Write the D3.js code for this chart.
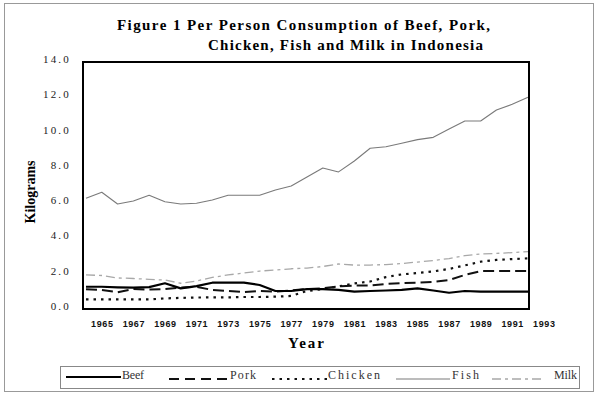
<!DOCTYPE html>
<html>
<head>
<meta charset="utf-8">
<script src="https://cdn.jsdelivr.net/npm/d3@7"></script>
<style>
  body { margin: 0; background: #fff; }
  svg { display: block; }
</style>
</head>
<body>
<div class="chart"></div>
<script>
// per person consumption, kg, 1964 - 1992
const years = [1964, 1965, 1966, 1967, 1968, 1969, 1970, 1971, 1972, 1973,
  1974, 1975, 1976, 1977, 1978, 1979, 1980, 1981, 1982, 1983,
  1984, 1985, 1986, 1987, 1988, 1989, 1990, 1991, 1992];

const beef = [1.26, 1.26, 1.23, 1.21, 1.24, 1.46, 1.17, 1.3, 1.49, 1.49,
  1.49, 1.36, 1.02, 1.02, 1.13, 1.13, 1.08, 0.98, 1.02, 1.05,
  1.08, 1.17, 1.05, 0.92, 1.02, 0.99, 0.98, 0.98, 0.98];
const pork = [1.12, 1.08, 0.95, 1.14, 1.1, 1.13, 1.22, 1.26, 1.08, 1.02,
  0.96, 1.02, 0.99, 1.05, 1.13, 1.17, 1.28, 1.33, 1.33, 1.42,
  1.47, 1.49, 1.53, 1.64, 1.93, 2.15, 2.15, 2.15, 2.15];
const chicken = [0.54, 0.54, 0.54, 0.54, 0.54, 0.6, 0.63, 0.65, 0.66, 0.66,
  0.68, 0.68, 0.7, 0.74, 1.02, 1.13, 1.28, 1.45, 1.56, 1.81,
  1.96, 2.04, 2.13, 2.27, 2.47, 2.68, 2.78, 2.83, 2.87];
const fish = [6.28, 6.62, 5.95, 6.12, 6.45, 6.08, 5.95, 5.99, 6.18, 6.45,
  6.45, 6.45, 6.75, 6.97, 7.48, 7.99, 7.77, 8.39, 9.11, 9.2,
  9.39, 9.6, 9.73, 10.2, 10.66, 10.66, 11.28, 11.6, 12.0];
const milk = [1.93, 1.9, 1.76, 1.73, 1.68, 1.64, 1.46, 1.59, 1.79, 1.93,
  2.04, 2.15, 2.21, 2.28, 2.32, 2.41, 2.55, 2.49, 2.49, 2.52,
  2.58, 2.66, 2.75, 2.86, 3.03, 3.12, 3.15, 3.2, 3.25];

const seriesNames = ["Beef", "Pork", "Chicken", "Fish", "Milk"];
const yTicks = [0, 2, 4, 6, 8, 10, 12, 14];
const xTicks = [1965, 1967, 1969, 1971, 1973, 1975, 1977, 1979, 1981,
  1983, 1985, 1987, 1989, 1991, 1993];

const width = 600,
  height = 395;

const serif = "'Liberation Serif', 'Times New Roman', serif";

// line look for each series
const styles = {
  Beef: { stroke: "#000", width: 2.2, dash: null },
  Pork: { stroke: "#111", width: 2, dash: "11 5" },
  Chicken: { stroke: "#111", width: 2.2, dash: "2.5 5" },
  Fish: { stroke: "#7a7a7a", width: 1.1, dash: null },
  Milk: { stroke: "#a8a8a8", width: 1.3, dash: "9 4 3 4" }
};

const values = { Beef: beef, Pork: pork, Chicken: chicken, Fish: fish, Milk: milk };

const svg = d3.select(".chart")
  .append("svg")
  .attr("width", width)
  .attr("height", height);

// outer frame
svg.append("rect")
  .attr("x", 4.5)
  .attr("y", 3.5)
  .attr("width", 589)
  .attr("height", 388)
  .attr("fill", "none")
  .attr("stroke", "#999")
  .attr("stroke-width", 1);

// title
svg.append("text")
  .attr("x", 117)
  .attr("y", 30)
  .attr("textLength", 373)
  .attr("lengthAdjust", "spacing")
  .style("font-family", serif)
  .style("font-weight", "bold")
  .style("font-size", "15px")
  .text("Figure 1  Per Person Consumption of Beef, Pork,");

svg.append("text")
  .attr("x", 208)
  .attr("y", 50)
  .attr("textLength", 275)
  .attr("lengthAdjust", "spacing")
  .style("font-family", serif)
  .style("font-weight", "bold")
  .style("font-size", "15px")
  .text("Chicken, Fish and Milk in Indonesia");

const x = d3.scaleLinear()
  .domain([1964, 1992])
  .range([86, 528]);

const y = d3.scaleLinear()
  .domain([0, 14])
  .range([309, 62]);

// y axis labels
let yAxis = svg.append("g")
  .attr("transform", "translate(83,0)")
  .call(d3.axisLeft(y)
    .tickValues(yTicks)
    .tickFormat(d3.format(".1f"))
    .tickSize(0)
    .tickPadding(12));

yAxis.select(".domain").remove();
yAxis.selectAll("text")
  .attr("dy", "0.05em")
  .style("font-family", serif)
  .style("font-size", "11px")
  .style("letter-spacing", "2.2px")
  .attr("fill", "#222");

// x axis labels
let xAxis = svg.append("g")
  .attr("transform", "translate(0,309)")
  .call(d3.axisBottom(x)
    .tickValues(xTicks)
    .tickFormat(d3.format("d"))
    .tickSize(0)
    .tickPadding(12));

xAxis.select(".domain").remove();
xAxis.selectAll("text")
  .style("font-family", "'Liberation Sans', Arial, sans-serif")
  .style("font-weight", "bold")
  .style("font-size", "9px")
  .style("letter-spacing", "0.6px")
  .attr("fill", "#111");

// axis titles
svg.append("text")
  .attr("transform", "translate(35,192) rotate(-90)")
  .attr("text-anchor", "middle")
  .style("font-family", serif)
  .style("font-weight", "bold")
  .style("font-size", "14px")
  .text("Kilograms");

svg.append("text")
  .attr("x", 307)
  .attr("y", 348)
  .attr("text-anchor", "middle")
  .style("font-family", serif)
  .style("font-weight", "bold")
  .style("font-size", "15px")
  .style("letter-spacing", "2px")
  .text("Year");

// lines
const line = d3.line()
  .x((d, i) => x(years[i]))
  .y(d => y(d));

svg.append("g")
  .selectAll("path")
  .data(seriesNames.slice().reverse())
  .join("path")
  .attr("d", name => line(values[name]))
  .attr("fill", "none")
  .attr("stroke", name => styles[name].stroke)
  .attr("stroke-width", name => styles[name].width)
  .attr("stroke-dasharray", name => styles[name].dash)
  .attr("stroke-linejoin", "round");

// plot box
svg.append("rect")
  .attr("x", 83)
  .attr("y", 62)
  .attr("width", 446)
  .attr("height", 247)
  .attr("fill", "none")
  .attr("stroke", "#000")
  .attr("stroke-width", 2);

// legend
{
  let legend = svg.append("g");

  legend.append("rect")
    .attr("x", 60.5)
    .attr("y", 366.5)
    .attr("width", 519)
    .attr("height", 22)
    .attr("fill", "none")
    .attr("stroke", "#888")
    .attr("stroke-width", 1);

  // sample line start / end and label start / width
  const spots = [
    [66, 121, 122, 22],
    [169, 227, 230, 26],
    [272, 327, 328, 52],
    [396, 450, 452, 27],
    [492, 544, 554, 23]
  ];

  let item = legend.selectAll("g")
    .data(seriesNames)
    .join("g");

  item.append("line")
    .attr("x1", (d, i) => spots[i][0])
    .attr("x2", (d, i) => spots[i][1])
    .attr("y1", d => d == "Beef" ? 377 : 379)
    .attr("y2", d => d == "Beef" ? 377 : 379)
    .attr("stroke", d => styles[d].stroke)
    .attr("stroke-width", d => styles[d].width)
    .attr("stroke-dasharray", d => d == "Pork" ? "10 6" : styles[d].dash);

  item.append("text")
    .attr("x", (d, i) => spots[i][2])
    .attr("y", 379)
    .attr("textLength", (d, i) => spots[i][3])
    .attr("lengthAdjust", "spacing")
    .style("font-family", serif)
    .style("font-size", "12px")
    .attr("fill", "#333")
    .text(d => d);
}
</script>
</body>
</html>
